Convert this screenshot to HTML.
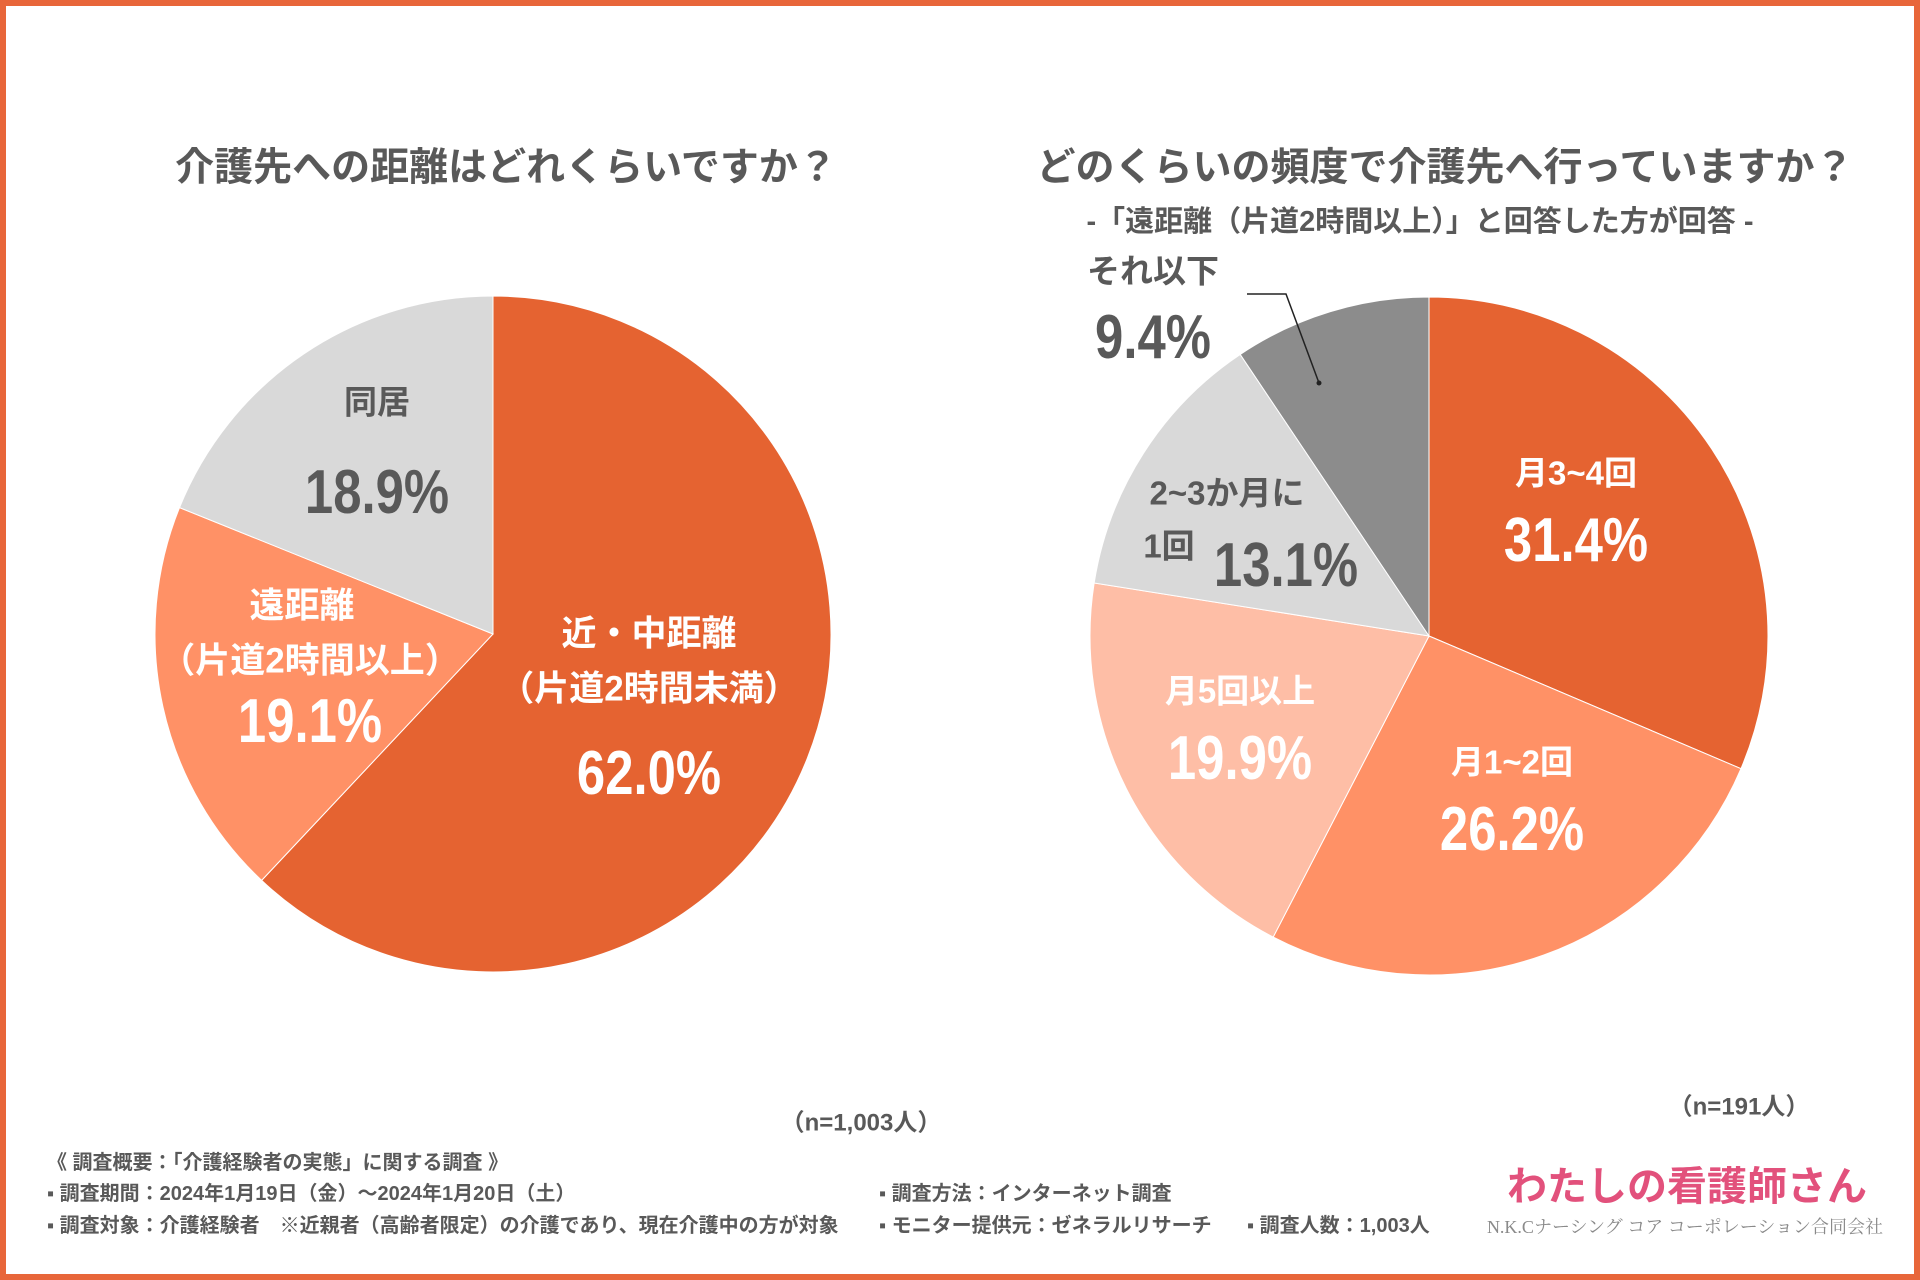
<!DOCTYPE html>
<html><head><meta charset="utf-8"><style>
body{margin:0;width:1920px;height:1280px;overflow:hidden;background:#fff;font-family:"Liberation Sans","Noto Sans CJK JP",sans-serif;}
#frame{position:absolute;left:0;top:0;width:1908px;height:1268px;border:6px solid #E8663A;}
svg{position:absolute;left:0;top:0}
</style></head><body>
<div id="frame"></div>
<svg id="chart" width="1920" height="1280"></svg>
<script>
const leftCategories=["近・中距離","遠距離","同居"];
const leftValues=[62.0,19.1,18.9];
const rightCategories=["月3~4回","月1~2回","月5回以上","2~3か月に1回","それ以下"];
const rightValues=[31.4,26.2,19.9,13.1,9.4];
const leftColors=["#E56331","#FF9166","#D9D9D9"];
const rightColors=["#E56331","#FF9166","#FEBEA6","#D9D9D9","#8C8C8C"];
const NS="http://www.w3.org/2000/svg";
const svg=document.getElementById('chart');
function el(t,a,p){const e=document.createElementNS(NS,t);for(const k in a)e.setAttribute(k,a[k]);(p||svg).appendChild(e);return e;}
function drawPie(cx,cy,r,vals,cols,name){
 const tot=vals.reduce((a,b)=>a+b,0);let a0=0;
 vals.forEach((v,i)=>{const a1=a0+v/tot*2*Math.PI;
  const x0=cx+r*Math.sin(a0),y0=cy-r*Math.cos(a0),x1=cx+r*Math.sin(a1),y1=cy-r*Math.cos(a1);
  const p=el('path',{d:`M${cx},${cy}L${x0},${y0}A${r},${r} 0 ${a1-a0>Math.PI?1:0} 1 ${x1},${y1}Z`,fill:cols[i],stroke:'#fff','stroke-width':1});
  
  
  a0=a1;});
}
drawPie(493,634,338,leftValues,leftColors,'left-pie');
drawPie(1429,636,339,rightValues,rightColors,'right-pie');
function txt(x,y,s,size,fill,name,anchor){const t=el('text',{x:x,y:y,'font-size':size,'font-weight':'bold',fill:fill,'text-anchor':anchor||'middle','dominant-baseline':'central'});t.textContent=s;
 
 return t;}
function num(x,y,s,fill,name){const t=txt(x,y,s,62,fill,name);t.setAttribute('transform',`translate(${x},0) scale(0.82,1) translate(${-x},0)`);return t;}
const W='#fff',G='#595959';
txt(506,168,'介護先への距離はどれくらいですか？',39,G,'left-title');
txt(1445,168,'どのくらいの頻度で介護先へ行っていますか？',39,G,'right-title');
txt(1420,222,'-「遠距離（片道2時間以上）」と回答した方が回答 -',29,G,'right-subtitle');
txt(649,634,leftCategories[0],35,W,'label-near');
txt(649,689,'（片道2時間未満）',35,W,'label-near-sub');
num(649,774,leftValues[0].toFixed(1)+'%',W,'value-near');
txt(302,606,leftCategories[1],35,W,'label-far');
txt(310,661,'（片道2時間以上）',35,W,'label-far-sub');
num(310,722,leftValues[1].toFixed(1)+'%',W,'value-far');
txt(377,402,leftCategories[2],33,G,'label-live');
num(377,493,leftValues[2].toFixed(1)+'%',G,'value-live');
txt(1576,473,rightCategories[0],33,W,'label-m34');
num(1576,541,rightValues[0].toFixed(1)+'%',W,'value-m34');
txt(1512,762,rightCategories[1],33,W,'label-m12');
num(1512,830,rightValues[1].toFixed(1)+'%',W,'value-m12');
txt(1240,691,rightCategories[2],33,W,'label-m5');
num(1240,759,rightValues[2].toFixed(1)+'%',W,'value-m5');
txt(1227,493,'2~3か月に',33,G,'label-23m');
txt(1169,546,'1回',33,G,'label-23m-b');
num(1286,566,rightValues[3].toFixed(1)+'%',G,'value-23m');
txt(1153,271,rightCategories[4],33,G,'label-less');
num(1153,338,rightValues[4].toFixed(1)+'%',G,'value-less');
const ll=el('polyline',{points:'1247,294 1286,294 1319,383',fill:'none',stroke:'#222','stroke-width':1.5});


const dot=el('circle',{cx:1319,cy:383,r:2.5,fill:'#222'});


txt(861,1123,'（n=1,003人）',24,G,'left-n');
txt(1739,1107,'（n=191人）',24,G,'right-n');
txt(47,1163,'《 調査概要：「介護経験者の実態」に関する調査 》',20,G,'footer-title','start');
txt(47,1194,'▪ 調査期間：2024年1月19日（金）～2024年1月20日（土）',20,G,'footer-period','start');
txt(47,1226,'▪ 調査対象：介護経験者　※近親者（高齢者限定）の介護であり、現在介護中の方が対象',20,G,'footer-target','start');
txt(879,1194,'▪ 調査方法：インターネット調査',20,G,'footer-method','start');
txt(879,1226,'▪ モニター提供元：ゼネラルリサーチ',20,G,'footer-monitor','start');
txt(1247,1226,'▪ 調査人数：1,003人',20,G,'footer-count','start');
txt(1687,1187,'わたしの看護師さん',40,'#E2517C','logo-text');
const c=txt(1685,1227,'N.K.Cナーシング コア コーポレーション合同会社',18,'#8a8a8a','company-name');
c.setAttribute('font-family','"Liberation Serif","Noto Serif CJK SC",serif');c.setAttribute('font-weight','normal');
</script>
</body></html>
